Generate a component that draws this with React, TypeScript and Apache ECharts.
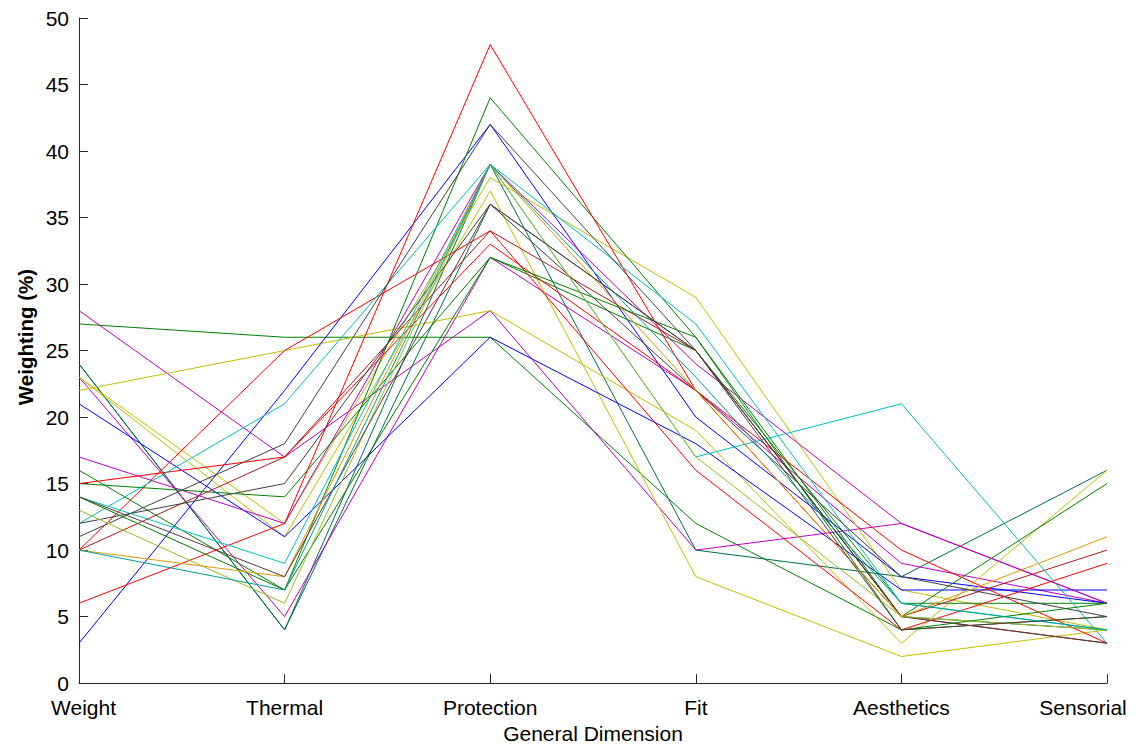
import React, { useEffect, useRef } from "react";
import * as echarts from "echarts";

const categories = ["Weight", "Thermal", "Protection", "Fit", "Aesthetics", "Sensorial"];
const yTicks = [0, 5, 10, 15, 20, 25, 30, 35, 40, 45, 50];
const yAxisTitle = "Weighting (%)";
const xAxisTitle = "General Dimension";

const lineValues: number[][] = [
  [27, 26, 26, 12, 4, 5],
  [28, 17, 28, 10, 12, 6],
  [24, 4, 39, 10, 8, 16],
  [24, 4, 36, 25, 5, 4],
  [23, 5, 32, 22, 9, 6],
  [23, 12, 38, 29, 7, 4],
  [22, 25, 28, 19, 3, 16],
  [23, 11, 37, 8, 2, 4],
  [21, 11, 26, 18, 7, 7],
  [3, 22, 42, 20, 8, 6],
  [17, 12, 39, 24, 12, 6],
  [16, 7, 44, 26, 5, 15],
  [15, 14, 32, 25, 6, 6],
  [6, 12, 48, 22, 10, 3],
  [10, 25, 34, 16, 4, 9],
  [10, 17, 34, 25, 5, 10],
  [15, 17, 33, 22, 5, 3],
  [12, 21, 39, 27, 6, 4],
  [14, 9, 39, 17, 21, 3],
  [12, 15, 36, 22, 8, 5],
  [11, 18, 42, 25, 5, 3],
  [14, 7, 32, 26, 4, 6],
  [13, 6, 39, 17, 5, 4],
  [10, 8, 39, 22, 5, 11],
  [14, 8, 36, 25, 4, 5],
  [10, 7, 39, 23, 6, 4],
];

const lineColors = [
  "#008000", "#bf00bf", "#006b50", "#006b50", "#bf00bf", "#bfbf00", "#bfbf00",
  "#bfbf00", "#0000ff", "#0000ff", "#bf00bf", "#008000", "#008000", "#ff0000",
  "#ff0000", "#b01818", "#ff0000", "#00bfbf", "#00bfbf", "#404040", "#404040",
  "#008000", "#99bb22", "#dd9900", "#5a3a3a", "#00a090",
];

export default function App() {
  const ref = useRef<HTMLDivElement>(null);
  useEffect(() => {
    if (!ref.current) return;
    const chart = echarts.init(ref.current, undefined, { renderer: "svg", width: 1137, height: 749 });
    const font = "'Liberation Sans', Arial, sans-serif";
    const last = categories[categories.length - 1];
    const first = categories[0];
    chart.setOption({
      animation: false,
      backgroundColor: "#ffffff",
      grid: { left: 79, right: 30, top: 18, bottom: 60, containLabel: false },
      graphic: [
        {
          type: "text",
          x: 25,
          y: 337,
          rotation: Math.PI / 2,
          style: {
            text: yAxisTitle,
            font: `bold 20.5px ${font}`,
            fill: "#000",
            align: "center",
            verticalAlign: "middle",
          },
        },
      ],
      xAxis: {
        type: "category",
        data: categories,
        boundaryGap: false,
        name: xAxisTitle,
        nameLocation: "middle",
        nameGap: 37,
        nameTextStyle: { fontFamily: font, fontSize: 21, color: "#000", padding: [0, 0, 0, 0] },
        axisLine: { show: true, lineStyle: { color: "#262626", width: 1 } },
        axisTick: { show: true, inside: true, length: 9, alignWithLabel: true, lineStyle: { color: "#262626" } },
        axisLabel: {
          fontFamily: font,
          fontSize: 21,
          color: "#000",
          margin: 14,
          interval: 0,
          formatter: (v: string) => (v === last ? `{r|${v}}` : v === first ? `{l|${v}}` : v),
          rich: {
            r: { fontFamily: font, fontSize: 21, color: "#000", padding: [0, 48, 0, 0] },
            l: { fontFamily: font, fontSize: 21, color: "#000", padding: [0, 0, 0, 9] },
          },
        },
        splitLine: { show: false },
      },
      yAxis: {
        type: "value",
        min: yTicks[0],
        max: yTicks[yTicks.length - 1],
        interval: 5,
        axisLine: { show: true, lineStyle: { color: "#262626", width: 1 } },
        axisTick: { show: true, inside: true, length: 9, lineStyle: { color: "#262626" } },
        axisLabel: { fontFamily: font, fontSize: 21, color: "#000", margin: 10 },
        splitLine: { show: false },
      },
      series: lineValues.map((vals, i) => ({
        type: "line",
        data: vals,
        symbol: "none",
        lineStyle: { width: 1, color: lineColors[i % lineColors.length] },
        itemStyle: { color: lineColors[i % lineColors.length] },
        emphasis: { disabled: true },
      })),
    });
    return () => chart.dispose();
  }, []);
  return (
    <div
      ref={ref}
      style={{ position: "fixed", left: 0, top: 0, width: 1137, height: 749, background: "#fff" }}
    />
  );
}
